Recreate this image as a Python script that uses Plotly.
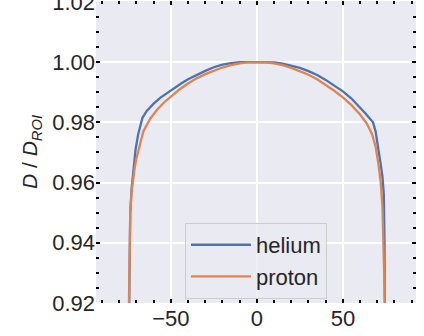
import plotly.graph_objects as go

# Dose profile positions (mm) and relative dose
helium_x = [-80, -76, -75, -74.6, -74.2, -73.6, -72.8, -72.2, -71.5, -70.5, -69, -67.5, -66.5, -64,
            -60, -56, -52, -48, -44, -40, -35, -30, -25, -20, -15, -10, -5, 0,
            5, 10, 15, 20, 25, 30, 35, 40, 45, 50, 55, 60, 63, 66, 67.5, 69, 70.5, 72, 73, 73.8,
            74.2, 74.6, 75.2, 76, 80]
helium_y = [0.30, 0.55, 0.82, 0.90, 0.93, 0.950, 0.958, 0.962, 0.966, 0.971, 0.976, 0.980, 0.9815, 0.9838,
            0.9862, 0.9882, 0.9898, 0.9914, 0.9929, 0.9943, 0.9958, 0.9971, 0.9983, 0.9992, 0.9997, 1.0000, 1.0000, 1.0000,
            1.0000, 0.9999, 0.9995, 0.9989, 0.9981, 0.9970, 0.9957, 0.9941, 0.9923, 0.9903, 0.9879, 0.9850, 0.9830, 0.9810, 0.9800,
            0.9770, 0.9720, 0.9660, 0.9620, 0.9560,
            0.94, 0.91, 0.82, 0.55, 0.30]

proton_x = [-80, -76, -75.2, -74.6, -74.2, -73.6, -72.8, -72, -71, -70, -68, -66, -62, -58, -54, -50,
            -45, -40, -35, -30, -25, -20, -15, -10, -5, 0,
            5, 10, 15, 20, 25, 30, 35, 40, 45, 50, 55, 60, 64, 67, 69, 70.7, 72, 73, 73.8, 74.2, 74.6, 75.2, 76, 80]
proton_y = [0.30, 0.55, 0.82, 0.91, 0.935, 0.950, 0.957, 0.961, 0.965, 0.968, 0.973, 0.977, 0.9812, 0.9842, 0.9866, 0.9886,
            0.9909, 0.9929, 0.9946, 0.9960, 0.9972, 0.9982, 0.9990, 0.9996, 0.9999, 1.0000,
            0.9999, 0.9996, 0.9990, 0.9981, 0.9970, 0.9958, 0.9943, 0.9925, 0.9905, 0.9883, 0.9857, 0.9826, 0.9795, 0.9760,
            0.9720, 0.9660, 0.9600, 0.9520, 0.9380, 0.925, 0.90, 0.82, 0.55, 0.30]

series_names = ["helium", "proton"]
colors = ["#4C72B0", "#DD8452"]

x_ticks = [-50, 0, 50]
y_ticks = [0.92, 0.94, 0.96, 0.98, 1.00, 1.02]
y_tick_labels = ["0.92", "0.94", "0.96", "0.98", "1.00", "1.02"]

FONT = "Liberation Sans, Arial, sans-serif"
TXT = "#262626"

fig = go.Figure()
for name, xs, ys, c in zip(series_names, [helium_x, proton_x], [helium_y, proton_y], colors):
    fig.add_trace(go.Scatter(x=xs, y=ys, mode="lines", name=name,
                             line=dict(color=c, width=2.3)))

axis_common = dict(
    showgrid=True, gridcolor="white", gridwidth=1.8, zeroline=False, showline=False,
    ticks="inside", ticklen=4, tickwidth=2, tickcolor="black", mirror="ticks",
    tickfont=dict(family=FONT, size=22, color=TXT), automargin=False,
    ticklabeloverflow="allow",
)

fig.update_layout(
    width=424, height=336,
    margin=dict(l=96, r=8, t=1, b=33),
    paper_bgcolor="white", plot_bgcolor="#EAEAF2",
    font=dict(family=FONT, size=22, color=TXT),
    xaxis=dict(range=[-93.5, 92.5], tickvals=x_ticks,
               minor=dict(ticks="inside", ticklen=3, tickwidth=1.5, tickcolor="black", dtick=10, tick0=0, showgrid=False),
               **axis_common),
    yaxis=dict(range=[0.92, 1.0203], tickvals=y_ticks, ticktext=y_tick_labels,
               minor=dict(ticks="inside", ticklen=3, tickwidth=1.5, tickcolor="black", dtick=0.005, tick0=0.92, showgrid=False),
               title=dict(text="<i>D</i> / <i>D</i><sub><i>ROI</i></sub>", font=dict(family=FONT, size=21, color=TXT), standoff=8),
               **axis_common),
    showlegend=True,
    legend=dict(x=0.278, y=0.265, xanchor="left", yanchor="top",
                bgcolor="rgba(234,234,242,0.8)", bordercolor="#CCCCCC", borderwidth=1,
                itemwidth=60,
                font=dict(family=FONT, size=22, color=TXT)),
)

fig.write_html("out.html", config={"displayModeBar": False},
               post_script="document.body.style.margin='0';document.body.style.overflow='hidden';")
